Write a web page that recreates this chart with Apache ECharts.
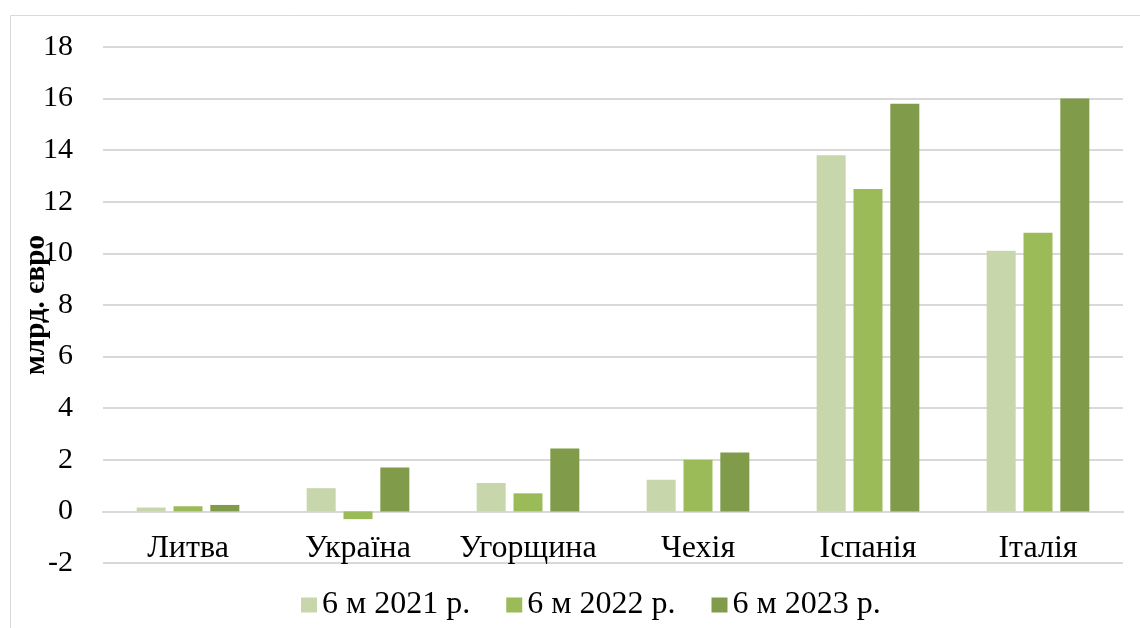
<!DOCTYPE html>
<html>
<head>
<meta charset="utf-8">
<script src="https://cdn.jsdelivr.net/npm/echarts@6/dist/echarts.min.js"></script>
<style>
html,body{margin:0;padding:0;background:#fff;}
#chart{width:1140px;height:628px;}
</style>
</head>
<body>
<div id="chart"></div>
<script>
var countries = ['Литва', 'Україна', 'Угорщина', 'Чехія', 'Іспанія', 'Італія'];
var seriesNames = ['6 м 2021 р.', '6 м 2022 р.', '6 м 2023 р.'];
var v2021 = [0.15, 0.9, 1.1, 1.23, 13.8, 10.1];
var v2022 = [0.2, -0.3, 0.7, 2.0, 12.5, 10.8];
var v2023 = [0.25, 1.7, 2.44, 2.28, 15.8, 16.0];
var colors = ['#c7d6ab', '#9bbb59', '#809b4a'];

var font = '"Liberation Serif", "Times New Roman", serif';
var myChart = echarts.init(document.getElementById('chart'));
var allValues = [v2021, v2022, v2023];
var series = [];
for (var i = 0; i < seriesNames.length; i++) {
    series.push({
        name: seriesNames[i],
        type: 'bar',
        barWidth: 29,
        barGap: '27%',
        data: allValues[i],
        itemStyle: {color: colors[i]}
    });
}
var option = {
    animation: false,
    color: colors,
    textStyle: {fontFamily: font},
    graphic: [{
        type: 'rect',
        shape: {x: 10.5, y: 15.5, width: 1140, height: 640},
        style: {fill: 'none', stroke: '#d9d9d9', lineWidth: 1}
    }],
    grid: {left: 103, right: 17, top: 47, bottom: 65},
    legend: {
        bottom: 2,
        left: 296,
        itemWidth: 16,
        itemHeight: 15,
        itemGap: 36,
        icon: 'rect',
        textStyle: {fontFamily: font, fontSize: 32, color: '#000'},
        data: seriesNames
    },
    xAxis: {
        type: 'category',
        data: countries,
        axisTick: {show: false},
        axisLine: {onZero: true, lineStyle: {color: '#d9d9d9', width: 2}},
        axisLabel: {fontFamily: font, fontSize: 32, color: '#000', margin: -30, interval: 0}
    },
    yAxis: {
        type: 'value',
        min: -2,
        max: 18,
        interval: 2,
        name: 'млрд. євро',
        nameLocation: 'middle',
        nameGap: 52,
        nameMoveOverlap: false,
        nameTextStyle: {fontFamily: font, fontSize: 29, fontWeight: 'bold', color: '#000'},
        axisLine: {show: false},
        axisTick: {show: false},
        axisLabel: {fontFamily: font, fontSize: 30, color: '#000', margin: 30},
        splitLine: {lineStyle: {color: '#d9d9d9', width: 2}}
    },
    series: series
};
myChart.setOption(option);
</script>
</body>
</html>
